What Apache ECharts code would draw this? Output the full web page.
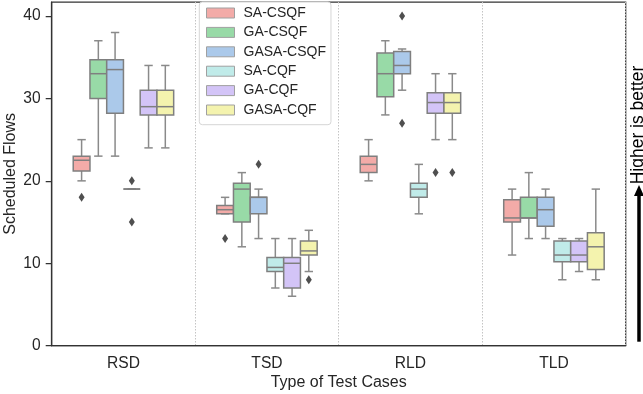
<!DOCTYPE html>
<html>
<head>
<meta charset="utf-8">
<script src="https://cdn.jsdelivr.net/npm/echarts@6/dist/echarts.min.js"></script>
<style>html,body{margin:0;padding:0;background:#fff}#c{width:643px;height:394px}</style>
</head>
<body>
<div id="c"></div>
<script>
// Categories and series
const categories = ['RSD', 'TSD', 'RLD', 'TLD'];
const seriesNames = ['SA-CSQF', 'GA-CSQF', 'GASA-CSQF', 'SA-CQF', 'GA-CQF', 'GASA-CQF'];
const yTicks = [0, 10, 20, 30, 40];

// five-number summaries per category: [min, q1, median, q3, max]
const SA_CSQF   = [[20, 21.2, 22.5, 23, 25], [16, 16, 16.5, 17, 18], [20, 21, 22, 23, 25], [11, 15, 15.5, 17.7, 19]];
const GA_CSQF   = [[23, 30, 33, 34.7, 37], [12, 15, 19, 19.7, 21], [28, 30.2, 33, 35.5, 37], [13, 15.5, 15.5, 18, 21]];
const GASA_CSQF = [[23, 28.2, 33.5, 34.7, 38], [13, 16, 18, 18, 19], [31, 33, 34, 35.7, 36], [13, 14.5, 16.5, 18, 19]];
const SA_CQF    = [[19, 19, 19, 19, 19], [7, 9, 9.5, 10.7, 13], [16, 18, 19, 19.7, 22], [8, 10.2, 11, 12.7, 13]];
const GA_CQF    = [[24, 28, 29, 31, 34], [6, 7, 10, 10.7, 13], [25, 28.2, 29.5, 30.7, 33], [9, 10.2, 11, 12.7, 13]];
const GASA_CQF  = [[24, 28, 29, 31, 34], [9, 11, 11.5, 12.7, 14], [25, 28.2, 29.5, 30.7, 33], [8, 9.25, 12, 13.7, 19]];

// outliers: [categoryIndex, value]
const SA_CSQF_out   = [[0, 18], [1, 13]];
const GA_CSQF_out   = [];
const GASA_CSQF_out = [[1, 22], [2, 40], [2, 27]];
const SA_CQF_out    = [[0, 20], [0, 15]];
const GA_CQF_out    = [[2, 21]];
const GASA_CQF_out  = [[1, 8], [2, 21]];

const summaries = [SA_CSQF, GA_CSQF, GASA_CSQF, SA_CQF, GA_CQF, GASA_CQF];
const outliers = [SA_CSQF_out, GA_CSQF_out, GASA_CSQF_out, SA_CQF_out, GA_CQF_out, GASA_CQF_out];
const colors = ['#f3aba8', '#98daa7', '#abc9ea', '#c0ebe9', '#d3c4f7', '#f4f3ae'];

const EDGE = '#7f7f7f';
const WHISK = '#8a8a8a';
const GROUP_FRAC = 0.7;

function boxRenderer(hue) {
  return function (params, api) {
    const cat = api.value(0);
    const band = api.size([1, 0])[0];
    const w = band * GROUP_FRAC / seriesNames.length;
    const cx = api.coord([cat, 0])[0] + (hue - (seriesNames.length - 1) / 2) * w;
    const Y = v => api.coord([cat, v])[1];
    const mn = api.value(1), q1 = api.value(2), md = api.value(3), q3 = api.value(4), mx = api.value(5);
    const ls = { stroke: WHISK, lineWidth: 1.5 };
    return {
      type: 'group',
      children: [
        { type: 'line', shape: { x1: cx, y1: Y(mx), x2: cx, y2: Y(q3) }, style: ls },
        { type: 'line', shape: { x1: cx, y1: Y(q1), x2: cx, y2: Y(mn) }, style: ls },
        { type: 'line', shape: { x1: cx - w / 4, y1: Y(mx), x2: cx + w / 4, y2: Y(mx) }, style: ls },
        { type: 'line', shape: { x1: cx - w / 4, y1: Y(mn), x2: cx + w / 4, y2: Y(mn) }, style: ls },
        { type: 'rect', shape: { x: cx - w / 2, y: Y(q3), width: w, height: Y(q1) - Y(q3) },
          style: { fill: colors[hue], stroke: EDGE, lineWidth: 1.5 } },
        { type: 'line', shape: { x1: cx - w / 2, y1: Y(md), x2: cx + w / 2, y2: Y(md) },
          style: { stroke: EDGE, lineWidth: 1.5 } }
      ]
    };
  };
}

function outlierRenderer(hue) {
  return function (params, api) {
    const cat = api.value(0);
    const band = api.size([1, 0])[0];
    const w = band * GROUP_FRAC / seriesNames.length;
    const p = api.coord([cat, api.value(1)]);
    const cx = p[0] + (hue - (seriesNames.length - 1) / 2) * w;
    const cy = p[1];
    return {
      type: 'polygon',
      shape: { points: [[cx, cy - 4.5], [cx + 3, cy], [cx, cy + 4.5], [cx - 3, cy]] },
      style: { fill: '#4f4f4f' }
    };
  };
}

const series = [];
seriesNames.forEach((name, h) => {
  series.push({
    name: name,
    type: 'custom',
    renderItem: boxRenderer(h),
    itemStyle: { color: colors[h] },
    encode: { x: 0, y: [1, 2, 3, 4, 5] },
    data: summaries[h].map((s, i) => [i].concat(s)),
    z: 3
  });
  series.push({
    name: name + ' outliers',
    type: 'custom',
    renderItem: outlierRenderer(h),
    encode: { x: 0, y: 1 },
    data: outliers[h],
    z: 4
  });
});

const FONT = '"Liberation Sans", Arial, sans-serif';
const chart = echarts.init(document.getElementById('c'), null, { renderer: 'canvas' });
chart.setOption({
  animation: false,
  backgroundColor: '#ffffff',
  textStyle: { fontFamily: FONT },
  grid: {
    left: 51.7, right: 17.3, top: 2, bottom: 48.3,
    show: true, borderColor: '#333', borderWidth: 1.25,
    outerBoundsMode: 'none'
  },
  legend: {
    orient: 'vertical',
    left: 199.3, top: 2,
    padding: [4, 5, 7.7, 6.7],
    itemWidth: 28, itemHeight: 10, itemGap: 5.4,
    icon: 'rect',
    backgroundColor: '#fff',
    borderColor: '#d6d6d6', borderWidth: 1, borderRadius: 3,
    textStyle: { fontSize: 14, color: '#262626', fontFamily: FONT, padding: [0, 0, 0, 4] },
    itemStyle: { borderColor: '#a0a0a0', borderWidth: 1 },
    data: seriesNames.map((n, i) => ({ name: n, itemStyle: { color: colors[i], borderColor: '#a0a0a0', borderWidth: 1 } })),
    selectedMode: false
  },
  xAxis: {
    type: 'category',
    data: categories,
    name: 'Type of Test Cases',
    nameLocation: 'middle',
    nameGap: 29,
    nameMoveOverlap: false,
    nameTextStyle: { fontSize: 16, color: '#262626', fontFamily: FONT },
    axisLine: { lineStyle: { color: '#333', width: 1.25 } },
    axisTick: { alignWithLabel: true, length: 6, lineStyle: { color: '#333', width: 1.25 } },
    axisLabel: { fontSize: 15.6, color: '#262626', margin: 10, fontFamily: FONT },
    splitLine: { show: true, lineStyle: { color: '#c4c4c4', width: 1, type: [1.5, 1.5] } }
  },
  yAxis: {
    type: 'value',
    min: 0, max: 41.7, interval: 10,
    name: 'Scheduled Flows',
    nameLocation: 'middle',
    nameGap: 33,
    nameMoveOverlap: false,
    nameTextStyle: { fontSize: 16, color: '#262626', fontFamily: FONT },
    axisLine: { show: true, lineStyle: { color: '#333', width: 1.25 } },
    axisTick: { show: true, length: 6, customValues: yTicks, lineStyle: { color: '#333', width: 1.25 } },
    axisLabel: { fontSize: 15.6, color: '#262626', margin: 11, customValues: yTicks, fontFamily: FONT },
    splitLine: { show: false }
  },
  graphic: [
    {
      type: 'text', x: 638, y: 125, rotation: Math.PI / 2,
      style: { text: 'Higher is better', fontSize: 17.5, fontFamily: FONT, fill: '#000',
               align: 'center', verticalAlign: 'middle' }
    },
    {
      type: 'line', shape: { x1: 639, y1: 341.7, x2: 639, y2: 193 },
      style: { stroke: '#000', lineWidth: 3.5 }
    },
    {
      type: 'polygon', shape: { points: [[639, 185], [644, 196], [634, 196]] },
      style: { fill: '#000' }
    }
  ],
  series: series
});
</script>
</body>
</html>
